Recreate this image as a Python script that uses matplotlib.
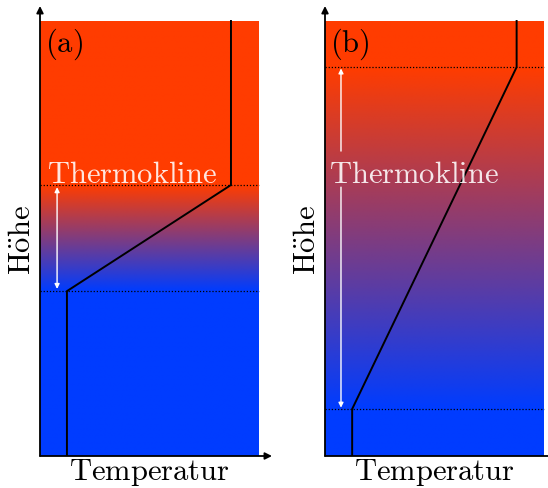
import numpy as np
import matplotlib.pyplot as plt
from matplotlib.colors import LinearSegmentedColormap

plt.rcParams['mathtext.fontset'] = 'cm'
plt.rcParams['font.family'] = ['cmr10', 'DejaVu Serif']

# Temperaturprofile (x: Temperatur, y: Höhe), beide Achsen 0..1
panels = ['(a)', '(b)']
cline_top = [0.623, 0.894]      # obere Grenze der Thermokline
cline_bottom = [0.379, 0.108]   # untere Grenze der Thermokline
temp_cold = [0.123, 0.124]
temp_warm = [0.872, 0.875]
text_x = [0.03, 0.02]           # Lage des Schriftzugs "Thermokline"
text_y = 0.629
arrow_x = [0.078, 0.073]

warm_color = '#ff3c00'
cold_color = '#003cff'
cmap = LinearSegmentedColormap.from_list('wasser', [cold_color, warm_color])

fig = plt.figure(figsize=(5.48, 4.89), dpi=100)
lefts = [40 / 548, 325 / 548]
xmax = 232 / 219
ymax = 450 / 435
fs = 22

for i in range(2):
    ax = fig.add_axes([lefts[i], 32 / 489, 232 / 548, 450 / 489])
    ax.set_xlim(0, xmax)
    ax.set_ylim(0, ymax)
    for s in ax.spines.values():
        s.set_visible(False)
    ax.set_xticks([])
    ax.set_yticks([])

    # Farbverlauf
    h = np.linspace(0, 1, 600)[:, None] * np.ones((1, 2))
    ax.imshow(h, cmap=cmap, vmin=cline_bottom[i], vmax=cline_top[i],
              extent=(0, 1, 0, 1), origin='lower', aspect='auto',
              interpolation='bilinear')

    # Grenzen der Thermokline
    for yy in (cline_top[i], cline_bottom[i]):
        ax.plot([0, 1], [yy, yy], color='black', lw=0.9, ls=(0, (1, 1.5)))

    # Temperaturprofil
    ax.plot([temp_warm[i], temp_warm[i], temp_cold[i], temp_cold[i]],
            [1, cline_top[i], cline_bottom[i], 0], color='black', lw=1.4)

    ax.text(text_x[i], text_y, r'$\mathrm{Thermokline}$',
            color='white', alpha=0.88, fontsize=fs, ha='left', va='baseline')
    ax.text(0.023, 0.989, r'$\mathrm{' + panels[i] + '}$',
            fontsize=fs, ha='left', va='top')

    # Pfeil der Thermokline
    arr = dict(arrowstyle='<|-|>', color='white', lw=1.0,
               mutation_scale=7, shrinkA=0, shrinkB=0)
    if i == 0:
        ax.annotate('', xy=(arrow_x[i], cline_top[i] - 0.005),
                    xytext=(arrow_x[i], cline_bottom[i] + 0.005), arrowprops=arr)
    else:
        gap_top, gap_bot = 0.701, 0.618
        ax.annotate('', xy=(arrow_x[i], cline_top[i] - 0.003),
                    xytext=(arrow_x[i], gap_top),
                    arrowprops=dict(arr, arrowstyle='-|>'))
        ax.annotate('', xy=(arrow_x[i], cline_bottom[i] + 0.003),
                    xytext=(arrow_x[i], gap_bot),
                    arrowprops=dict(arr, arrowstyle='-|>'))

    # Achsen mit Pfeilen
    ax_arr = dict(arrowstyle='-|>', color='black', lw=1.3,
                  mutation_scale=10, shrinkA=0, shrinkB=0)
    ax.annotate('', xy=(0, ymax), xytext=(0, 0), arrowprops=ax_arr,
                annotation_clip=False)
    ax.annotate('', xy=(xmax, 0), xytext=(0, 0), arrowprops=ax_arr,
                annotation_clip=False)

    ax.text(0.5, -0.053, r'$\mathrm{Temperatur}$', fontsize=fs,
            ha='center', va='baseline')
    ax.text(-0.018, 0.499, r'$\mathrm{H\ddot{o}he}$', fontsize=fs,
            rotation=90, ha='right', va='center')

fig.savefig('out.png', dpi=100)
